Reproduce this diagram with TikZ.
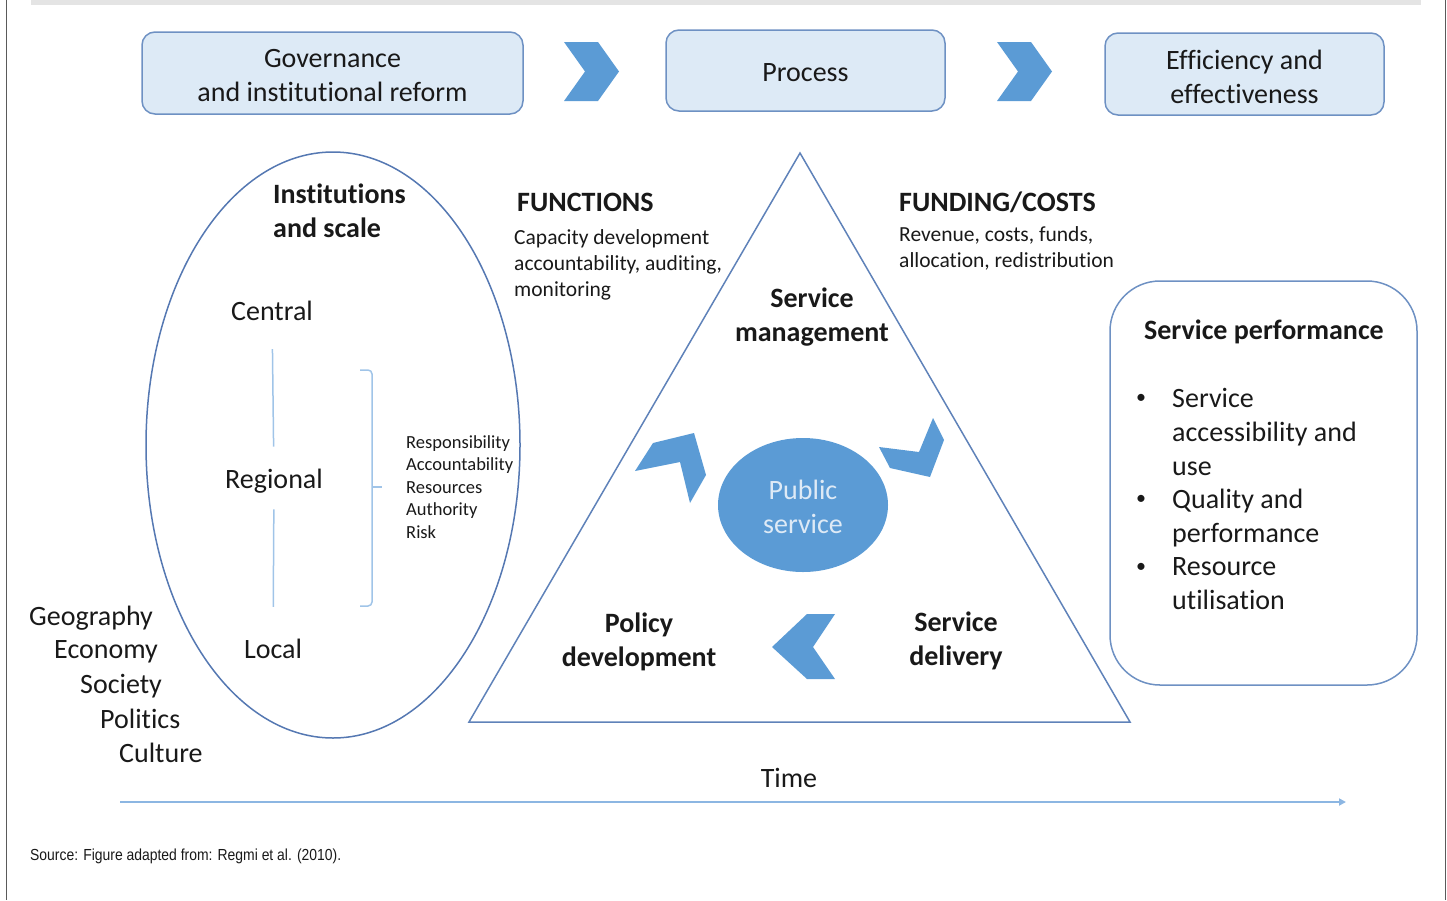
\documentclass[tikz,border=0pt]{standalone}
\usepackage{fontspec}
\setmainfont{Carlito}[Ligatures={NoCommon}]
\newfontfamily\arialfont{Liberation Sans}
\usetikzlibrary{arrows.meta,shapes.geometric}
\definecolor{boxfill}{RGB}{221,234,246}
\definecolor{boxline}{RGB}{110,145,195}
\definecolor{chevblue}{RGB}{91,155,213}
\definecolor{triline}{RGB}{95,130,185}
\definecolor{ellline}{RGB}{85,120,178}
\definecolor{lightline}{RGB}{160,196,232}
\definecolor{timeline}{RGB}{140,182,226}
\definecolor{txt}{RGB}{25,25,25}
\definecolor{greybar}{RGB}{228,228,228}
\definecolor{frameline}{RGB}{90,90,90}
\definecolor{pstext}{RGB}{222,234,246}
\newcommand{\myfs}[2]{\fontsize{#1}{#2}\selectfont}
\begin{document}
\begin{tikzpicture}[x=1pt,y=-1pt,
  topbox/.style={draw=boxline, fill=boxfill, rounded corners=13pt, line width=1.5pt, align=center, text=txt, font=\myfs{28}{34}, inner sep=0pt},
  chev/.style={fill=chevblue, draw=none},
  lbl/.style={inner sep=0pt, text=txt, font=\myfs{28}{34}},
  bld/.style={inner sep=0pt, text=txt, font=\myfs{28}{34}\bfseries},
  smalltxt/.style={inner sep=0pt, text=txt, font=\myfs{21.5}{26}, align=left},
  tinytxt/.style={inner sep=0pt, text=txt, font=\myfs{18.5}{22.5}, align=left},
  bul/.style={inner sep=0pt, text=txt, font=\myfs{20}{24}},
  lightrule/.style={draw=lightline, line width=1.5pt},
  tri/.style={draw=triline, line width=1.5pt},
  spbox/.style={draw=boxline, line width=1.5pt, rounded corners=50pt, inner sep=0pt},
  frame/.style={draw=frameline, line width=1pt}
]
\useasboundingbox (0,0) rectangle (1447,900);
% frame
\fill[greybar] (31,0) rectangle (1421,4.5);
\draw[frame] (6,0) -- (6,900);
\draw[frame] (1445,0) -- (1445,900);

% top boxes
\node[topbox, minimum width=381pt, minimum height=82pt] (gov) at (332.5,73) {};
\node[lbl, align=center] (govtxt) at (332.5,75.5) {Governance\\and institutional reform};
\node[topbox, minimum width=279pt, minimum height=81pt] (proc) at (805.5,70.5) {};
\node[lbl] (proctxt) at (805.5,72.5) {Process};
\node[topbox, minimum width=279pt, minimum height=82pt] (eff) at (1244.5,74) {};
\node[lbl, align=center] (efftxt) at (1244.5,76.5) {Efficiency and\\effectiveness};
\fill[chev] (564,42) -- (598,42) -- (619,71.5) -- (598,101) -- (564,101) -- (585,71.5) -- cycle;
\fill[chev] (997,42) -- (1031,42) -- (1052,71.5) -- (1031,101) -- (997,101) -- (1018,71.5) -- cycle;

% ellipse of institutions
\draw[draw=ellline, line width=1.5pt] (333,445) ellipse [x radius=187pt, y radius=293pt];
\node[bld, anchor=west, align=left] (inst) at (273,211) {Institutions\\and scale};
\node[lbl] (central) at (272,311) {Central};
\node[lbl] (regional) at (274,481) {Regional};
\node[lbl] (local) at (273,649) {Local};
\draw[lightrule, shorten <=28pt, shorten >=22pt] (central) -- (regional);
\draw[lightrule, shorten <=16pt, shorten >=32pt] (regional) -- (local);
\node[tinytxt, anchor=west] (resp) at (406,487) {Responsibility\\Accountability\\Resources\\Authority\\Risk};
\draw[lightrule, rounded corners=4pt] (360,370) -- (372,370) -- (372,606) -- (360,606);
\coordinate (brtick) at (372,487);
\draw[lightrule] (brtick) -- (resp.west -| 382,0);

% context list
\node[lbl, anchor=west] (geo) at (29,618) {Geography};
\node[lbl, anchor=west] (eco) at (54,652) {Economy};
\node[lbl, anchor=west] (soc) at (80,686) {Society};
\node[lbl, anchor=west] (pol) at (100,719) {Politics};
\node[lbl, anchor=west] (cul) at (119,753) {Culture};

% triangle
\coordinate (tA) at (800,153);
\coordinate (tB) at (469,722);
\coordinate (tC) at (1130,722);
\draw[tri] (tA) -- (tB) -- (tC) -- cycle;

\node[bld, anchor=west] (func) at (517,202) {FUNCTIONS};
\node[smalltxt, anchor=west] (functxt) at (514,265) {Capacity development\\accountability, auditing,\\monitoring};
\node[bld, anchor=west] (fund) at (899,202) {FUNDING/COSTS};
\node[smalltxt, anchor=west] (fundtxt) at (899,248.5) {Revenue, costs, funds,\\allocation, redistribution};

\node[bld, align=center] (sm) at (812,317) {Service\\management};
\node[bld, align=center] (pd) at (639,642) {Policy\\development};
\node[bld, align=center] (sd) at (956,641) {Service\\delivery};
\node[ellipse, fill=chevblue, draw=none, minimum width=170pt, minimum height=134pt, inner sep=0pt, align=center, text=pstext, font=\myfs{28}{34}] (ps) at (803,505) {};
\node[inner sep=0pt, align=center, text=pstext, font=\myfs{28}{34}] (pstxt) at (803,507) {Public\\service};

\fill[chev] (772,647) -- (807,614) -- (835,614) -- (813,647) -- (835,679) -- (807,679) -- cycle;
\fill[chev] (635,471) -- (653,443) -- (694,433) -- (706,475) -- (690,503) -- (680,462) -- cycle;
\fill[chev] (879,447) -- (919,452) -- (933,418) -- (944,440) -- (930,477) -- (890,468) -- cycle;

% service performance
\node[spbox, minimum width=307pt, minimum height=404pt] (sp) at (1263.5,483) {};
\node[bld] (sptitle) at (1264,332) {Service performance};
\node[lbl, anchor=north west, align=left] (it1) at (1172,388) {Service\\accessibility and\\use};
\node[lbl, anchor=north west, align=left] (it2) at (1172,489) {Quality and\\performance};
\node[lbl, anchor=north west, align=left] (it3) at (1172,557) {Resource\\utilisation};
\node[bul] (b1) at (1141,399) {\textbullet};
\node[bul] (b2) at (1141,500) {\textbullet};
\node[bul] (b3) at (1141,568) {\textbullet};

% time
\node[lbl] (time) at (789,778) {Time};
\coordinate (ts) at (120,802);
\coordinate (te) at (1346,802);
\draw[draw=timeline, line width=2pt, -{Triangle[length=7pt,width=7pt]}] (ts) -- (te);

% source
\node[inner sep=0pt, anchor=west, text=txt, font=\arialfont\myfs{16}{19}] (src) at (30,856) {\scalebox{0.87}[1]{Source: Figure adapted from: Regmi et al. (2010).}};
\end{tikzpicture}
\end{document}
